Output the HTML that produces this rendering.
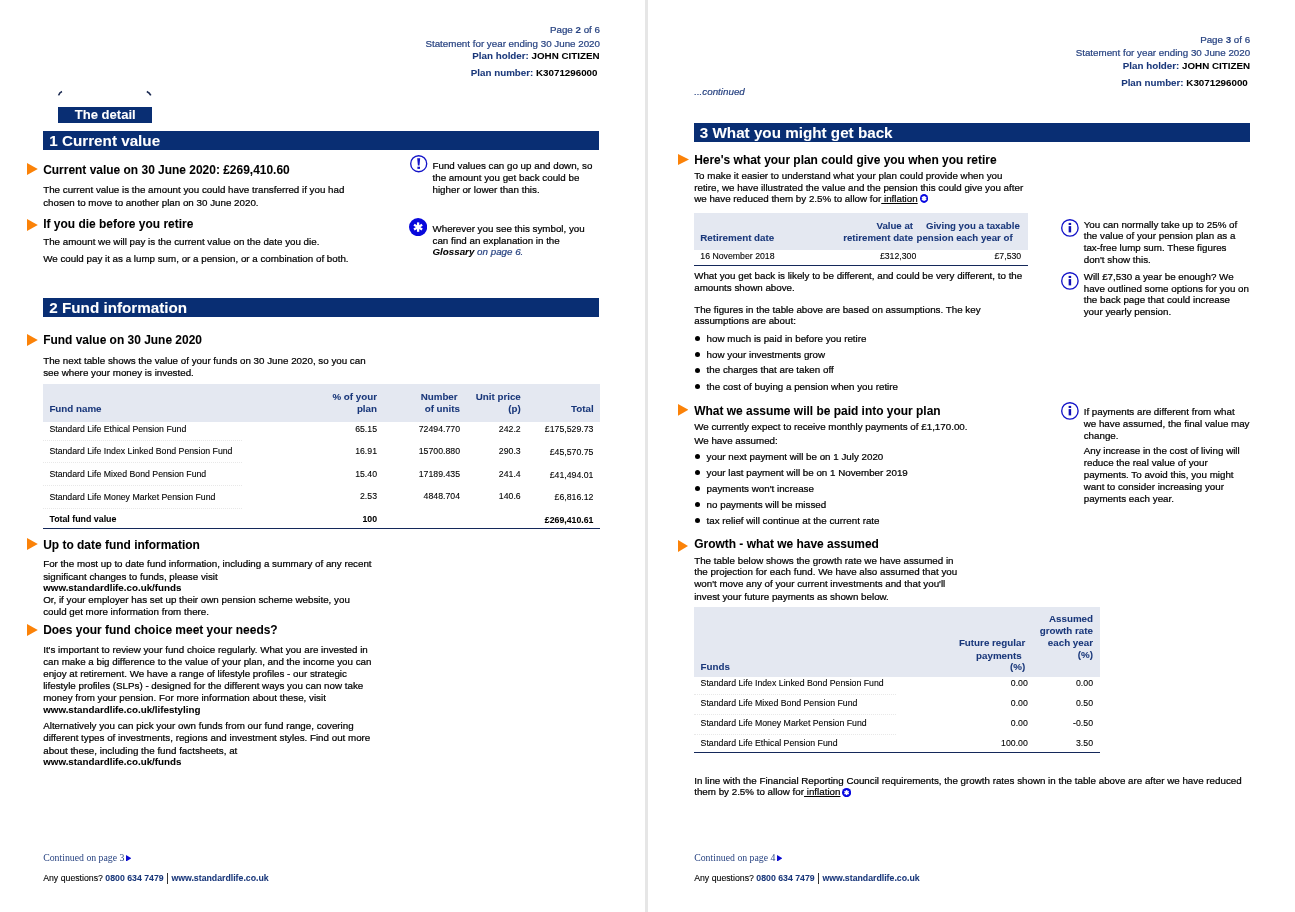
<!DOCTYPE html>
<html lang="en"><head><meta charset="utf-8"><title>Pension statement – pages 2 and 3</title><style>
html,body{margin:0;padding:0;background:#fff}
body{width:1295px;height:912px;position:relative;overflow:hidden;font-family:"Liberation Sans",Arial,sans-serif;color:#000}
.t{position:absolute;white-space:nowrap;font-weight:normal;-webkit-text-stroke:0.22px currentColor}
.r{position:absolute;display:block}
.b,.t b{font-weight:bold;-webkit-text-stroke:0.06px currentColor}
.i{font-style:italic}
.s{-webkit-text-stroke:0.1px currentColor}
.sf{font-family:"Liberation Serif","Times New Roman",serif;-webkit-text-stroke:0}
u{text-decoration:underline;text-underline-offset:1px}
</style></head>
<body>
<div class="r" style="left:645.00px;top:0.00px;width:3.00px;height:912.00px;background:#e6e6e6"></div>
<span class="t " style="top:25.010px;font-size:9.79px;line-height:9.79px;color:#294482;right:695.00px;">Page <b>2</b> of 6</span>
<span class="t " style="top:39.010px;font-size:9.79px;line-height:9.79px;color:#294482;right:695.00px;">Statement for year ending 30 June 2020</span>
<span class="t b" style="top:51.010px;font-size:9.79px;line-height:9.79px;right:695.50px;"><span style="color:#19377a">Plan holder:</span> JOHN CITIZEN</span>
<span class="t b" style="top:68.010px;font-size:9.79px;line-height:9.79px;right:697.50px;"><span style="color:#19377a">Plan number:</span> K3071296000</span>
<svg class="r" style="left:56px;top:89px" width="98" height="8"><path d="M2.6 6.4Q3.4 3.6 6.0 2.6" fill="none" stroke="#1b2a52" stroke-width="1.6"/><path d="M90.8 2.6Q93.6 3.8 94.8 6.4" fill="none" stroke="#1b2a52" stroke-width="1.6"/></svg>
<div class="r" style="left:58.20px;top:107.20px;width:93.60px;height:15.50px;background:#092e73"></div>
<span class="t b" style="top:108.015px;font-size:13.05px;line-height:13.05px;color:#fff;left:74.80px;">The detail</span>
<div class="r" style="left:43.20px;top:131.00px;width:556.00px;height:18.90px;background:#092e73"></div>
<span class="t b" style="top:133.007px;font-size:15.22px;line-height:15.22px;color:#fff;left:49.30px;">1 Current value</span>
<svg class="r" style="left:27.00px;top:163.00px" width="10.8" height="12.0" viewBox="0 0 10.8 12.0"><path d="M0 0L10.8 6.0L0 12.0Z" fill="#fb8208"/></svg>
<span class="t b" style="top:165.001px;font-size:11.96px;line-height:11.96px;left:43.20px;">Current value on 30 June 2020: £269,410.60</span>
<span class="t " style="top:185.010px;font-size:9.79px;line-height:9.79px;left:43.20px;">The current value is the amount you could have transferred if you had</span>
<span class="t " style="top:198.010px;font-size:9.79px;line-height:9.79px;left:43.20px;">chosen to move to another plan on 30 June 2020.</span>
<svg class="r" style="left:27.00px;top:219.00px" width="10.8" height="12.0" viewBox="0 0 10.8 12.0"><path d="M0 0L10.8 6.0L0 12.0Z" fill="#fb8208"/></svg>
<span class="t b" style="top:219.001px;font-size:11.96px;line-height:11.96px;left:43.20px;">If you die before you retire</span>
<span class="t " style="top:237.010px;font-size:9.79px;line-height:9.79px;left:43.20px;">The amount we will pay is the current value on the date you die.</span>
<span class="t " style="top:254.010px;font-size:9.79px;line-height:9.79px;left:43.20px;">We could pay it as a lump sum, or a pension, or a combination of both.</span>
<svg class="r" style="left:409.20px;top:154.30px" width="19.40" height="19.40"><circle cx="9.70" cy="9.70" r="8.00" fill="#fff" stroke="#1414c8" stroke-width="1.35"/><path d="M8.20 4.30h3l-0.7 7.2h-1.6z" fill="#1414c8"/><rect x="8.40" y="12.70" width="2.6" height="2.2" fill="#1414c8"/></svg>
<span class="t " style="top:161.010px;font-size:9.79px;line-height:9.79px;left:432.50px;">Fund values can go up and down, so</span>
<span class="t " style="top:173.010px;font-size:9.79px;line-height:9.79px;left:432.50px;">the amount you get back could be</span>
<span class="t " style="top:185.010px;font-size:9.79px;line-height:9.79px;left:432.50px;">higher or lower than this.</span>
<svg class="r" style="left:408.90px;top:218.20px" width="18.20" height="18.20"><circle cx="9.1" cy="9.1" r="9.1" fill="#0808dc"/><g transform="translate(9.1 9.1)" fill="#fff"><rect x="-1.15" y="-4.7" width="2.3" height="9.4" transform="rotate(0)" /><rect x="-1.15" y="-4.7" width="2.3" height="9.4" transform="rotate(60)" /><rect x="-1.15" y="-4.7" width="2.3" height="9.4" transform="rotate(120)" /></g></svg>
<span class="t " style="top:224.010px;font-size:9.79px;line-height:9.79px;left:432.50px;">Wherever you see this symbol, you</span>
<span class="t " style="top:236.010px;font-size:9.79px;line-height:9.79px;left:432.50px;">can find an explanation in the</span>
<span class="t i" style="top:247.010px;font-size:9.79px;line-height:9.79px;left:432.50px;"><b>Glossary</b> <span style="color:#294482">on page 6.</span></span>
<div class="r" style="left:43.20px;top:298.00px;width:556.00px;height:18.90px;background:#092e73"></div>
<span class="t b" style="top:300.007px;font-size:15.22px;line-height:15.22px;color:#fff;left:49.30px;">2 Fund information</span>
<svg class="r" style="left:27.00px;top:333.90px" width="10.8" height="12.0" viewBox="0 0 10.8 12.0"><path d="M0 0L10.8 6.0L0 12.0Z" fill="#fb8208"/></svg>
<span class="t b" style="top:335.001px;font-size:11.96px;line-height:11.96px;left:43.20px;">Fund value on 30 June 2020</span>
<span class="t " style="top:356.010px;font-size:9.79px;line-height:9.79px;left:43.20px;">The next table shows the value of your funds on 30 June 2020, so you can</span>
<span class="t " style="top:368.010px;font-size:9.79px;line-height:9.79px;left:43.20px;">see where your money is invested.</span>
<div class="r" style="left:43.20px;top:383.80px;width:556.80px;height:38.10px;background:#e4e8f1"></div>
<span class="t b" style="top:404.010px;font-size:9.79px;line-height:9.79px;color:#19377a;left:49.40px;">Fund name</span>
<span class="t b" style="top:392.010px;font-size:9.79px;line-height:9.79px;color:#19377a;right:918.00px;">% of your</span>
<span class="t b" style="top:404.010px;font-size:9.79px;line-height:9.79px;color:#19377a;right:918.00px;">plan</span>
<span class="t b" style="top:392.010px;font-size:9.79px;line-height:9.79px;color:#19377a;right:837.40px;">Number</span>
<span class="t b" style="top:404.010px;font-size:9.79px;line-height:9.79px;color:#19377a;right:835.00px;">of units</span>
<span class="t b" style="top:392.010px;font-size:9.79px;line-height:9.79px;color:#19377a;right:774.20px;">Unit price</span>
<span class="t b" style="top:404.010px;font-size:9.79px;line-height:9.79px;color:#19377a;right:774.20px;">(p)</span>
<span class="t b" style="top:404.010px;font-size:9.79px;line-height:9.79px;color:#19377a;right:701.40px;">Total</span>
<span class="t s" style="top:425.008px;font-size:8.74px;line-height:8.74px;left:49.40px;">Standard Life Ethical Pension Fund</span>
<span class="t s" style="top:425.008px;font-size:8.74px;line-height:8.74px;right:918.00px;">65.15</span>
<span class="t s" style="top:425.008px;font-size:8.74px;line-height:8.74px;right:835.00px;">72494.770</span>
<span class="t s" style="top:425.008px;font-size:8.74px;line-height:8.74px;right:774.30px;">242.2</span>
<span class="t s" style="top:425.008px;font-size:8.74px;line-height:8.74px;right:701.60px;">£175,529.73</span>
<span class="t s" style="top:447.008px;font-size:8.74px;line-height:8.74px;left:49.40px;">Standard Life Index Linked Bond Pension Fund</span>
<span class="t s" style="top:447.008px;font-size:8.74px;line-height:8.74px;right:918.00px;">16.91</span>
<span class="t s" style="top:447.008px;font-size:8.74px;line-height:8.74px;right:835.00px;">15700.880</span>
<span class="t s" style="top:447.008px;font-size:8.74px;line-height:8.74px;right:774.30px;">290.3</span>
<span class="t s" style="top:448.008px;font-size:8.74px;line-height:8.74px;right:701.60px;">£45,570.75</span>
<span class="t s" style="top:470.008px;font-size:8.74px;line-height:8.74px;left:49.40px;">Standard Life Mixed Bond Pension Fund</span>
<span class="t s" style="top:470.008px;font-size:8.74px;line-height:8.74px;right:918.00px;">15.40</span>
<span class="t s" style="top:470.008px;font-size:8.74px;line-height:8.74px;right:835.00px;">17189.435</span>
<span class="t s" style="top:470.008px;font-size:8.74px;line-height:8.74px;right:774.30px;">241.4</span>
<span class="t s" style="top:471.008px;font-size:8.74px;line-height:8.74px;right:701.60px;">£41,494.01</span>
<span class="t s" style="top:493.008px;font-size:8.74px;line-height:8.74px;left:49.40px;">Standard Life Money Market Pension Fund</span>
<span class="t s" style="top:492.008px;font-size:8.74px;line-height:8.74px;right:918.00px;">2.53</span>
<span class="t s" style="top:492.008px;font-size:8.74px;line-height:8.74px;right:835.00px;">4848.704</span>
<span class="t s" style="top:492.008px;font-size:8.74px;line-height:8.74px;right:774.30px;">140.6</span>
<span class="t s" style="top:493.008px;font-size:8.74px;line-height:8.74px;right:701.60px;">£6,816.12</span>
<div class="r" style="left:43.20px;top:440.00px;width:198.80px;height:0;border-top:1px dotted #e8e8e8"></div>
<div class="r" style="left:43.20px;top:461.90px;width:198.80px;height:0;border-top:1px dotted #e8e8e8"></div>
<div class="r" style="left:43.20px;top:484.90px;width:198.80px;height:0;border-top:1px dotted #e8e8e8"></div>
<div class="r" style="left:43.20px;top:508.00px;width:198.80px;height:0;border-top:1px dotted #e8e8e8"></div>
<span class="t b" style="top:515.009px;font-size:8.83px;line-height:8.83px;left:49.40px;">Total fund value</span>
<span class="t b" style="top:515.008px;font-size:8.74px;line-height:8.74px;right:918.00px;">100</span>
<span class="t b" style="top:516.008px;font-size:8.74px;line-height:8.74px;right:701.60px;">£269,410.61</span>
<div class="r" style="left:43.20px;top:527.90px;width:556.80px;height:1.20px;background:#14285a"></div>
<svg class="r" style="left:27.00px;top:538.30px" width="10.8" height="12.0" viewBox="0 0 10.8 12.0"><path d="M0 0L10.8 6.0L0 12.0Z" fill="#fb8208"/></svg>
<span class="t b" style="top:540.001px;font-size:11.96px;line-height:11.96px;left:43.20px;">Up to date fund information</span>
<span class="t " style="top:559.010px;font-size:9.79px;line-height:9.79px;left:43.20px;">For the most up to date fund information, including a summary of any recent</span>
<span class="t " style="top:572.010px;font-size:9.79px;line-height:9.79px;left:43.20px;">significant changes to funds, please visit</span>
<span class="t b" style="top:583.010px;font-size:9.79px;line-height:9.79px;left:43.20px;">www.standardlife.co.uk/funds</span>
<span class="t " style="top:595.010px;font-size:9.79px;line-height:9.79px;left:43.20px;">Or, if your employer has set up their own pension scheme website, you</span>
<span class="t " style="top:607.010px;font-size:9.79px;line-height:9.79px;left:43.20px;">could get more information from there.</span>
<svg class="r" style="left:27.00px;top:623.90px" width="10.8" height="12.0" viewBox="0 0 10.8 12.0"><path d="M0 0L10.8 6.0L0 12.0Z" fill="#fb8208"/></svg>
<span class="t b" style="top:625.001px;font-size:11.96px;line-height:11.96px;left:43.20px;">Does your fund choice meet your needs?</span>
<span class="t " style="top:645.010px;font-size:9.79px;line-height:9.79px;left:43.20px;">It's important to review your fund choice regularly. What you are invested in</span>
<span class="t " style="top:657.010px;font-size:9.79px;line-height:9.79px;left:43.20px;">can make a big difference to the value of your plan, and the income you can</span>
<span class="t " style="top:669.010px;font-size:9.79px;line-height:9.79px;left:43.20px;">enjoy at retirement. We have a range of lifestyle profiles - our strategic</span>
<span class="t " style="top:681.010px;font-size:9.79px;line-height:9.79px;left:43.20px;">lifestyle profiles (SLPs) - designed for the different ways you can now take</span>
<span class="t " style="top:693.010px;font-size:9.79px;line-height:9.79px;left:43.20px;">money from your pension. For more information about these, visit</span>
<span class="t b" style="top:705.010px;font-size:9.79px;line-height:9.79px;left:43.20px;">www.standardlife.co.uk/lifestyling</span>
<span class="t " style="top:721.010px;font-size:9.79px;line-height:9.79px;left:43.20px;">Alternatively you can pick your own funds from our fund range, covering</span>
<span class="t " style="top:733.010px;font-size:9.79px;line-height:9.79px;left:43.20px;">different types of investments, regions and investment styles. Find out more</span>
<span class="t " style="top:746.010px;font-size:9.79px;line-height:9.79px;left:43.20px;">about these, including the fund factsheets, at</span>
<span class="t b" style="top:757.010px;font-size:9.79px;line-height:9.79px;left:43.20px;">www.standardlife.co.uk/funds</span>
<span class="t sf" style="top:853.004px;font-size:9.79px;line-height:9.79px;color:#294482;left:43.20px;">Continued on page 3</span>
<svg class="r" style="left:125.80px;top:854.90px" width="5.4" height="6.6" viewBox="0 0 5.4 6.6"><path d="M0 0L5.4 3.3L0 6.6Z" fill="#0a0ad0"/></svg>
<span class="t s" style="top:874.008px;font-size:8.74px;line-height:8.74px;left:43.20px;">Any questions? <b style="color:#19377a">0800 634 7479</b></span>
<div class="r" style="left:166.50px;top:873.30px;width:1.30px;height:10.70px;background:#333"></div>
<span class="t b" style="top:874.008px;font-size:8.74px;line-height:8.74px;color:#19377a;left:171.40px;">www.standardlife.co.uk</span>
<span class="t " style="top:35.010px;font-size:9.79px;line-height:9.79px;color:#294482;right:44.80px;">Page <b>3</b> of 6</span>
<span class="t " style="top:48.010px;font-size:9.79px;line-height:9.79px;color:#294482;right:44.80px;">Statement for year ending 30 June 2020</span>
<span class="t b" style="top:61.010px;font-size:9.79px;line-height:9.79px;right:45.00px;"><span style="color:#19377a">Plan holder:</span> JOHN CITIZEN</span>
<span class="t b" style="top:78.010px;font-size:9.79px;line-height:9.79px;right:47.20px;"><span style="color:#19377a">Plan number:</span> K3071296000</span>
<span class="t i" style="top:87.010px;font-size:9.79px;line-height:9.79px;color:#294482;left:694.20px;">...continued</span>
<div class="r" style="left:693.80px;top:123.00px;width:556.40px;height:18.90px;background:#092e73"></div>
<span class="t b" style="top:125.007px;font-size:15.22px;line-height:15.22px;color:#fff;left:699.80px;">3 What you might get back</span>
<svg class="r" style="left:677.90px;top:153.80px" width="11.0" height="11.0" viewBox="0 0 11.0 11.0"><path d="M0 0L11.0 5.5L0 11.0Z" fill="#fb8208"/></svg>
<span class="t b" style="top:155.001px;font-size:11.96px;line-height:11.96px;left:694.20px;">Here's what your plan could give you when you retire</span>
<span class="t " style="top:171.010px;font-size:9.79px;line-height:9.79px;left:694.20px;">To make it easier to understand what your plan could provide when you</span>
<span class="t " style="top:183.010px;font-size:9.79px;line-height:9.79px;left:694.20px;">retire, we have illustrated the value and the pension this could give you after</span>
<span class="t " style="top:194.010px;font-size:9.79px;line-height:9.79px;left:694.20px;">we have reduced them by 2.5% to allow for<u> inflation</u></span>
<svg class="r" style="left:919.95px;top:194.05px" width="8.10" height="8.90"><ellipse cx="4.05" cy="4.45" rx="4.05" ry="4.45" fill="#0808e0"/><g transform="translate(4.05 4.45)" fill="#fff"><rect x="-0.8" y="-2.5" width="1.6" height="5" transform="rotate(0)" /><rect x="-0.8" y="-2.5" width="1.6" height="5" transform="rotate(60)" /><rect x="-0.8" y="-2.5" width="1.6" height="5" transform="rotate(120)" /><circle r="1.1"/></g></svg>
<div class="r" style="left:693.90px;top:213.20px;width:334.10px;height:36.60px;background:#e4e8f1"></div>
<span class="t b" style="top:221.011px;font-size:9.66px;line-height:9.66px;color:#19377a;right:382.00px;">Value at</span>
<span class="t b" style="top:221.011px;font-size:9.66px;line-height:9.66px;color:#19377a;right:275.20px;">Giving you a taxable</span>
<span class="t b" style="top:233.010px;font-size:9.79px;line-height:9.79px;color:#19377a;left:700.30px;">Retirement date</span>
<span class="t b" style="top:233.011px;font-size:9.66px;line-height:9.66px;color:#19377a;right:382.00px;">retirement date</span>
<span class="t b" style="top:233.011px;font-size:9.66px;line-height:9.66px;color:#19377a;right:282.40px;">pension each year of</span>
<span class="t s" style="top:252.008px;font-size:8.74px;line-height:8.74px;left:700.30px;">16 November 2018</span>
<span class="t s" style="top:252.008px;font-size:8.74px;line-height:8.74px;right:378.70px;">£312,300</span>
<span class="t s" style="top:252.008px;font-size:8.74px;line-height:8.74px;right:273.80px;">£7,530</span>
<div class="r" style="left:693.90px;top:265.20px;width:334.10px;height:1.10px;background:#14285a"></div>
<span class="t " style="top:271.010px;font-size:9.79px;line-height:9.79px;left:694.20px;">What you get back is likely to be different, and could be very different, to the</span>
<span class="t " style="top:283.010px;font-size:9.79px;line-height:9.79px;left:694.20px;">amounts shown above.</span>
<svg class="r" style="left:1060.10px;top:218.20px" width="19.80" height="19.80"><circle cx="9.90" cy="9.90" r="8.20" fill="#fff" stroke="#1414c8" stroke-width="1.35"/><rect x="8.65" y="8.10" width="2.5" height="6.3" fill="#1212b4"/><rect x="8.65" y="4.90" width="2.5" height="2.1" fill="#1212b4"/></svg>
<span class="t " style="top:220.010px;font-size:9.79px;line-height:9.79px;left:1083.70px;">You can normally take up to 25% of</span>
<span class="t " style="top:231.010px;font-size:9.79px;line-height:9.79px;left:1083.70px;">the value of your pension plan as a</span>
<span class="t " style="top:243.010px;font-size:9.79px;line-height:9.79px;left:1083.70px;">tax-free lump sum. These figures</span>
<span class="t " style="top:255.010px;font-size:9.79px;line-height:9.79px;left:1083.70px;">don't show this.</span>
<svg class="r" style="left:1060.10px;top:270.60px" width="19.80" height="19.80"><circle cx="9.90" cy="9.90" r="8.20" fill="#fff" stroke="#1414c8" stroke-width="1.35"/><rect x="8.65" y="8.10" width="2.5" height="6.3" fill="#1212b4"/><rect x="8.65" y="4.90" width="2.5" height="2.1" fill="#1212b4"/></svg>
<span class="t " style="top:272.010px;font-size:9.79px;line-height:9.79px;left:1083.70px;">Will £7,530 a year be enough? We</span>
<span class="t " style="top:284.010px;font-size:9.79px;line-height:9.79px;left:1083.70px;">have outlined some options for you on</span>
<span class="t " style="top:295.010px;font-size:9.79px;line-height:9.79px;left:1083.70px;">the back page that could increase</span>
<span class="t " style="top:307.010px;font-size:9.79px;line-height:9.79px;left:1083.70px;">your yearly pension.</span>
<span class="t " style="top:305.010px;font-size:9.79px;line-height:9.79px;left:694.20px;">The figures in the table above are based on assumptions. The key</span>
<span class="t " style="top:316.010px;font-size:9.79px;line-height:9.79px;left:694.20px;">assumptions are about:</span>
<div class="r" style="left:694.90px;top:336.00px;width:5.2px;height:5.2px;border-radius:50%;background:#000"></div>
<span class="t " style="top:334.010px;font-size:9.79px;line-height:9.79px;left:706.60px;">how much is paid in before you retire</span>
<div class="r" style="left:694.90px;top:352.00px;width:5.2px;height:5.2px;border-radius:50%;background:#000"></div>
<span class="t " style="top:350.010px;font-size:9.79px;line-height:9.79px;left:706.60px;">how your investments grow</span>
<div class="r" style="left:694.90px;top:367.50px;width:5.2px;height:5.2px;border-radius:50%;background:#000"></div>
<span class="t " style="top:365.010px;font-size:9.79px;line-height:9.79px;left:706.60px;">the charges that are taken off</span>
<div class="r" style="left:694.90px;top:383.90px;width:5.2px;height:5.2px;border-radius:50%;background:#000"></div>
<span class="t " style="top:382.010px;font-size:9.79px;line-height:9.79px;left:706.60px;">the cost of buying a pension when you retire</span>
<svg class="r" style="left:677.90px;top:404.25px" width="10.5" height="11.7" viewBox="0 0 10.5 11.7"><path d="M0 0L10.5 5.85L0 11.7Z" fill="#fb8208"/></svg>
<span class="t b" style="top:406.001px;font-size:11.96px;line-height:11.96px;left:694.20px;">What we assume will be paid into your plan</span>
<span class="t " style="top:422.010px;font-size:9.79px;line-height:9.79px;left:694.20px;">We currently expect to receive monthly payments of £1,170.00.</span>
<span class="t " style="top:436.010px;font-size:9.79px;line-height:9.79px;left:694.20px;">We have assumed:</span>
<div class="r" style="left:694.90px;top:453.80px;width:5.2px;height:5.2px;border-radius:50%;background:#000"></div>
<span class="t " style="top:452.010px;font-size:9.79px;line-height:9.79px;left:706.60px;">your next payment will be on 1 July 2020</span>
<div class="r" style="left:694.90px;top:469.80px;width:5.2px;height:5.2px;border-radius:50%;background:#000"></div>
<span class="t " style="top:468.010px;font-size:9.79px;line-height:9.79px;left:706.60px;">your last payment will be on 1 November 2019</span>
<div class="r" style="left:694.90px;top:486.20px;width:5.2px;height:5.2px;border-radius:50%;background:#000"></div>
<span class="t " style="top:484.010px;font-size:9.79px;line-height:9.79px;left:706.60px;">payments won't increase</span>
<div class="r" style="left:694.90px;top:502.20px;width:5.2px;height:5.2px;border-radius:50%;background:#000"></div>
<span class="t " style="top:500.010px;font-size:9.79px;line-height:9.79px;left:706.60px;">no payments will be missed</span>
<div class="r" style="left:694.90px;top:518.20px;width:5.2px;height:5.2px;border-radius:50%;background:#000"></div>
<span class="t " style="top:516.010px;font-size:9.79px;line-height:9.79px;left:706.60px;">tax relief will continue at the current rate</span>
<svg class="r" style="left:1060.10px;top:401.40px" width="19.80" height="19.80"><circle cx="9.90" cy="9.90" r="8.20" fill="#fff" stroke="#1414c8" stroke-width="1.35"/><rect x="8.65" y="8.10" width="2.5" height="6.3" fill="#1212b4"/><rect x="8.65" y="4.90" width="2.5" height="2.1" fill="#1212b4"/></svg>
<span class="t " style="top:407.010px;font-size:9.79px;line-height:9.79px;left:1083.70px;">If payments are different from what</span>
<span class="t " style="top:419.010px;font-size:9.79px;line-height:9.79px;left:1083.70px;">we have assumed, the final value may</span>
<span class="t " style="top:431.010px;font-size:9.79px;line-height:9.79px;left:1083.70px;">change.</span>
<span class="t " style="top:446.010px;font-size:9.79px;line-height:9.79px;left:1083.70px;">Any increase in the cost of living will</span>
<span class="t " style="top:458.010px;font-size:9.79px;line-height:9.79px;left:1083.70px;">reduce the real value of your</span>
<span class="t " style="top:470.010px;font-size:9.79px;line-height:9.79px;left:1083.70px;">payments. To avoid this, you might</span>
<span class="t " style="top:482.010px;font-size:9.79px;line-height:9.79px;left:1083.70px;">want to consider increasing your</span>
<span class="t " style="top:494.010px;font-size:9.79px;line-height:9.79px;left:1083.70px;">payments each year.</span>
<svg class="r" style="left:677.90px;top:540.00px" width="10.2" height="12.0" viewBox="0 0 10.2 12.0"><path d="M0 0L10.2 6.0L0 12.0Z" fill="#fb8208"/></svg>
<span class="t b" style="top:539.001px;font-size:11.96px;line-height:11.96px;left:694.20px;">Growth - what we have assumed</span>
<span class="t " style="top:556.010px;font-size:9.79px;line-height:9.79px;left:694.20px;">The table below shows the growth rate we have assumed in</span>
<span class="t " style="top:567.010px;font-size:9.79px;line-height:9.79px;left:694.20px;">the projection for each fund. We have also assumed that you</span>
<span class="t " style="top:579.010px;font-size:9.79px;line-height:9.79px;left:694.20px;">won't move any of your current investments and that you'll</span>
<span class="t " style="top:592.010px;font-size:9.79px;line-height:9.79px;left:694.20px;">invest your future payments as shown below.</span>
<div class="r" style="left:693.80px;top:607.10px;width:406.00px;height:69.70px;background:#e4e8f1"></div>
<span class="t b" style="top:614.010px;font-size:9.79px;line-height:9.79px;color:#19377a;right:202.00px;">Assumed</span>
<span class="t b" style="top:626.010px;font-size:9.79px;line-height:9.79px;color:#19377a;right:202.00px;">growth rate</span>
<span class="t b" style="top:638.010px;font-size:9.79px;line-height:9.79px;color:#19377a;right:202.00px;">each year</span>
<span class="t b" style="top:650.010px;font-size:9.79px;line-height:9.79px;color:#19377a;right:202.00px;">(%)</span>
<span class="t b" style="top:638.010px;font-size:9.79px;line-height:9.79px;color:#19377a;right:269.80px;">Future regular</span>
<span class="t b" style="top:651.010px;font-size:9.79px;line-height:9.79px;color:#19377a;right:273.30px;">payments</span>
<span class="t b" style="top:662.010px;font-size:9.79px;line-height:9.79px;color:#19377a;right:269.80px;">(%)</span>
<span class="t b" style="top:662.010px;font-size:9.79px;line-height:9.79px;color:#19377a;left:700.60px;">Funds</span>
<span class="t s" style="top:679.008px;font-size:8.74px;line-height:8.74px;left:700.60px;">Standard Life Index Linked Bond Pension Fund</span>
<span class="t s" style="top:679.008px;font-size:8.74px;line-height:8.74px;right:267.20px;">0.00</span>
<span class="t s" style="top:679.008px;font-size:8.74px;line-height:8.74px;right:202.00px;">0.00</span>
<span class="t s" style="top:699.008px;font-size:8.74px;line-height:8.74px;left:700.60px;">Standard Life Mixed Bond Pension Fund</span>
<span class="t s" style="top:699.008px;font-size:8.74px;line-height:8.74px;right:267.20px;">0.00</span>
<span class="t s" style="top:699.008px;font-size:8.74px;line-height:8.74px;right:202.00px;">0.50</span>
<span class="t s" style="top:719.008px;font-size:8.74px;line-height:8.74px;left:700.60px;">Standard Life Money Market Pension Fund</span>
<span class="t s" style="top:719.008px;font-size:8.74px;line-height:8.74px;right:267.20px;">0.00</span>
<span class="t s" style="top:719.008px;font-size:8.74px;line-height:8.74px;right:202.00px;">-0.50</span>
<span class="t s" style="top:739.008px;font-size:8.74px;line-height:8.74px;left:700.60px;">Standard Life Ethical Pension Fund</span>
<span class="t s" style="top:739.008px;font-size:8.74px;line-height:8.74px;right:267.20px;">100.00</span>
<span class="t s" style="top:739.008px;font-size:8.74px;line-height:8.74px;right:202.00px;">3.50</span>
<div class="r" style="left:693.80px;top:694.00px;width:202.20px;height:0;border-top:1px dotted #e8e8e8"></div>
<div class="r" style="left:693.80px;top:714.00px;width:202.20px;height:0;border-top:1px dotted #e8e8e8"></div>
<div class="r" style="left:693.80px;top:733.70px;width:202.20px;height:0;border-top:1px dotted #e8e8e8"></div>
<div class="r" style="left:693.80px;top:751.60px;width:406.00px;height:1.20px;background:#14285a"></div>
<span class="t " style="top:776.010px;font-size:9.79px;line-height:9.79px;left:694.20px;">In line with the Financial Reporting Council requirements, the growth rates shown in the table above are after we have reduced</span>
<span class="t " style="top:787.010px;font-size:9.79px;line-height:9.79px;left:694.20px;">them by 2.5% to allow for<u> inflation</u></span>
<svg class="r" style="left:841.90px;top:787.90px" width="9.20" height="9.20"><ellipse cx="4.6" cy="4.6" rx="4.6" ry="4.6" fill="#0808e0"/><g transform="translate(4.6 4.6)" fill="#fff"><rect x="-0.8" y="-2.5" width="1.6" height="5" transform="rotate(0)" /><rect x="-0.8" y="-2.5" width="1.6" height="5" transform="rotate(60)" /><rect x="-0.8" y="-2.5" width="1.6" height="5" transform="rotate(120)" /><circle r="1.1"/></g></svg>
<span class="t sf" style="top:853.004px;font-size:9.79px;line-height:9.79px;color:#294482;left:694.20px;">Continued on page 4</span>
<svg class="r" style="left:776.80px;top:854.50px" width="5.4" height="6.6" viewBox="0 0 5.4 6.6"><path d="M0 0L5.4 3.3L0 6.6Z" fill="#0a0ad0"/></svg>
<span class="t s" style="top:874.008px;font-size:8.74px;line-height:8.74px;left:694.20px;">Any questions? <b style="color:#19377a">0800 634 7479</b></span>
<div class="r" style="left:817.50px;top:873.10px;width:1.30px;height:10.70px;background:#333"></div>
<span class="t b" style="top:874.008px;font-size:8.74px;line-height:8.74px;color:#19377a;left:822.40px;">www.standardlife.co.uk</span>
</body></html>
